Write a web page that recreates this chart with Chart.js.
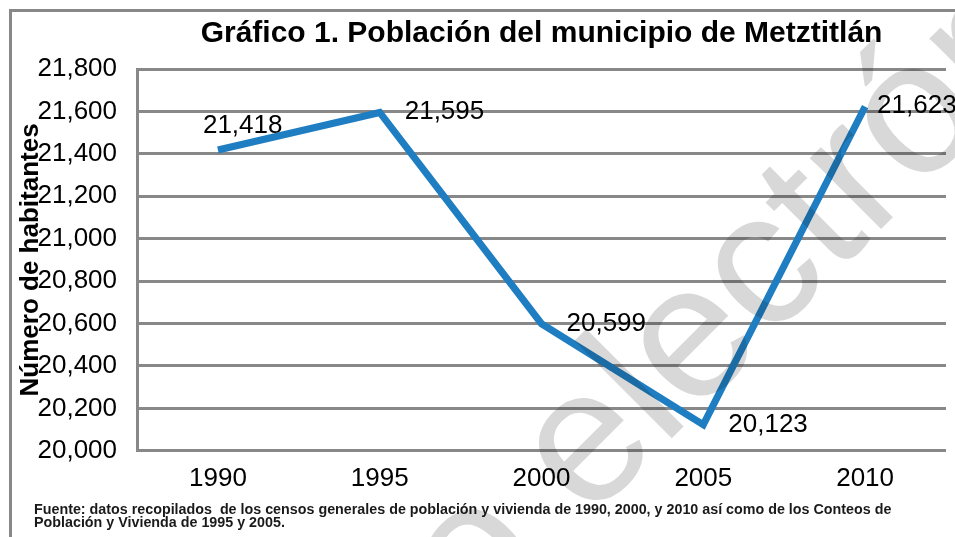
<!DOCTYPE html>
<html>
<head>
<meta charset="utf-8">
<script src="https://cdn.jsdelivr.net/npm/chart.js@4.4.1/dist/chart.umd.min.js"></script>
<style>
    body { margin: 0; background: #fff; }
    #poblacionChart { display: block; }
</style>
</head>
<body>
<canvas id="poblacionChart" width="955" height="537"></canvas>

<script>
    // Datos del censo
    const years = ['1990', '1995', '2000', '2005', '2010'];
    const population = [21418, 21595, 20599, 20123, 21623];
    const yMin = 20000;
    const yMax = 21800;
    const yStep = 200;

    const chartTitle = 'Gráfico 1. Población del municipio de Metztitlán';
    const yAxisTitle = 'Número de habitantes';
    const sourceLines = [
        'Fuente: datos recopilados  de los censos generales de población y vivienda de 1990, 2000, y 2010 así como de los Conteos de',
        'Población y Vivienda de 1995 y 2005.'
    ];
    const watermarkPrefix = 'Documento ';
    const watermark = 'electrónico';

    const FONT = "'Liberation Sans', Arial, sans-serif";
    const GRID = '#888888';

    const fmt = v => v.toLocaleString('en-US');

    // frame, axis title, source note
    const decorations = {
        id: 'decorations',
        beforeDraw(chart) {
            const ctx = chart.ctx;
            ctx.save();
            ctx.fillStyle = '#fff';
            ctx.fillRect(0, 0, chart.width, chart.height);
            ctx.fillStyle = GRID;
            ctx.fillRect(9, 9, chart.width - 9, 3);
            ctx.fillRect(9, 9, 3, chart.height - 9);
            ctx.restore();
        },
        afterDraw(chart) {
            const ctx = chart.ctx;
            const area = chart.chartArea;
            ctx.save();
            ctx.fillStyle = '#000';
            ctx.font = 'bold 26px ' + FONT;
            ctx.textAlign = 'center';
            ctx.textBaseline = 'middle';
            ctx.translate(31, (area.top + area.bottom) / 2);
            ctx.rotate(-Math.PI / 2);
            ctx.fillText(yAxisTitle, 0, 0);
            ctx.restore();

            ctx.save();
            ctx.fillStyle = '#1a1a1a';
            ctx.font = 'bold 14.3px ' + FONT;
            ctx.textAlign = 'left';
            ctx.textBaseline = 'middle';
            sourceLines.forEach((line, i) => ctx.fillText(line, 34, 510 + i * 13.5));
            ctx.restore();

            // marca de agua
            ctx.save();
            ctx.globalCompositeOperation = 'multiply';
            ctx.fillStyle = '#d8d8d8';
            ctx.font = '190px ' + FONT;
            ctx.textBaseline = 'alphabetic';
            ctx.translate(588, 522);
            ctx.rotate(-45 * Math.PI / 180);
            const shift = ctx.measureText(watermarkPrefix).width;
            ctx.fillText(watermarkPrefix + watermark, -shift, 0);
            ctx.restore();
        }
    };

    // etiquetas de valores junto a cada punto
    const valueLabels = {
        id: 'valueLabels',
        afterDatasetsDraw(chart, args, opts) {
            const ctx = chart.ctx;
            const meta = chart.getDatasetMeta(0);
            ctx.save();
            ctx.fillStyle = '#000';
            ctx.font = '26px ' + FONT;
            ctx.textAlign = 'left';
            ctx.textBaseline = 'middle';
            meta.data.forEach((pt, i) => {
                const off = opts.offsets[i] || [25, 0];
                ctx.fillText(fmt(population[i]), pt.x + off[0], pt.y + off[1]);
            });
            ctx.restore();
        }
    };

    const ctx = document.getElementById('poblacionChart').getContext('2d');
    const chart = new Chart(ctx, {
        type: 'line',
        data: {
            labels: years,
            datasets: [{
                label: 'Población',
                data: population,
                borderColor: '#1f7ec2',
                backgroundColor: '#1f7ec2',
                borderWidth: 7,
                borderJoinStyle: 'miter',
                pointRadius: 0,
                tension: 0
            }]
        },
        options: {
            responsive: false,
            animation: false,
            devicePixelRatio: 1,
            layout: {
                padding: { left: 17.5, right: 9, top: 16, bottom: 31 }
            },
            plugins: {
                legend: { display: false },
                tooltip: { enabled: false },
                title: {
                    display: true,
                    text: chartTitle,
                    fullSize: false,
                    color: '#000',
                    font: { family: FONT, size: 30, weight: 'bold' },
                    padding: { top: 0, bottom: 17 }
                },
                valueLabels: {
                    offsets: [[-15, -24], [25, -1], [25, 0], [25, 0], [12, -1]]
                }
            },
            scales: {
                x: {
                    offset: true,
                    grid: { display: false, drawTicks: false, tickLength: 0 },
                    border: { display: false },
                    ticks: {
                        color: '#000',
                        padding: 12,
                        font: { family: FONT, size: 26 }
                    }
                },
                y: {
                    min: yMin,
                    max: yMax,
                    grid: { color: GRID, lineWidth: 3, drawTicks: false, tickLength: 0 },
                    border: { display: true, color: GRID, width: 3 },
                    ticks: {
                        stepSize: yStep,
                        color: '#000',
                        padding: 20,
                        font: { family: FONT, size: 26 },
                        callback: v => fmt(v)
                    }
                }
            }
        },
        plugins: [decorations, valueLabels]
    });
</script>
</body>
</html>
